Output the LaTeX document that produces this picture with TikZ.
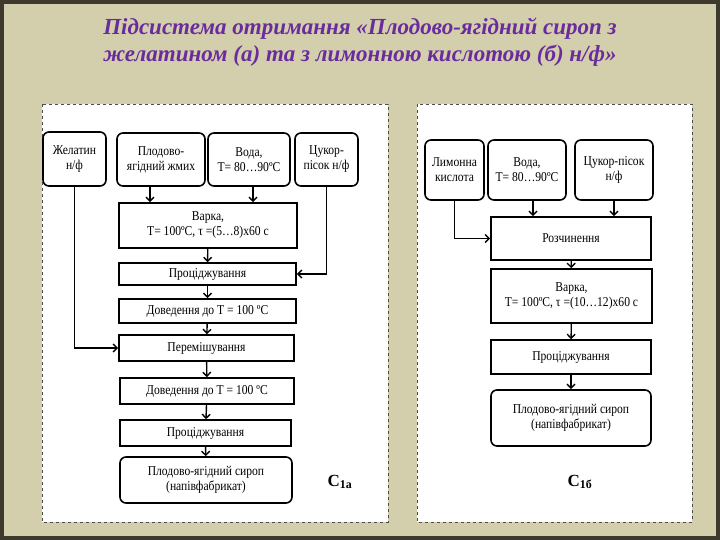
\documentclass[tikz,border=0pt]{standalone}
\usepackage{fontspec}
\setmainfont{Liberation Serif}
\newfontfamily\cond[FakeStretch=0.86]{Liberation Serif}
\usetikzlibrary{arrows.meta}
\definecolor{ttl}{HTML}{6A2C9C}
\definecolor{bgc}{HTML}{D3CEAC}
\begin{document}
\begin{tikzpicture}[x=1pt,y=-1pt,
  box/.style={draw,line width=1.6pt,fill=white,align=center,inner sep=0pt,font=\cond\fontsize{13.5}{15}\selectfont},
  rbox/.style={box,rounded corners=6pt},
  bigf/.style={font=\cond\fontsize{16}{18}\selectfont},
  arr/.style={-{Straight Barb[length=4pt,width=8pt,line width=1.4pt]},line width=1.4pt},
  panel/.style={draw=black!70,dashed,fill=white,line width=0.6pt}]
\fill[black!75!olive] (0,0) rectangle (720,540);
\fill[bgc] (4,4) rectangle (716,536);
\node[align=center,text=ttl,font=\fontsize{23}{27}\selectfont\bfseries\itshape] (title) at (360,42)
  {Підсистема отримання «Плодово-ягідний сироп з\\желатином (а) та з лимонною кислотою (б) н/ф»};
\path[panel] (42,104) rectangle (388,522);
\path[panel] (417,104) rectangle (692,522);
% left
\node[rbox,minimum width=63pt,minimum height=54pt] (zh) at (74.5,159) {Желатин\\н/ф};
\node[rbox,minimum width=88pt,minimum height=53pt] (pl) at (161,159.5) {Плодово-\\ягідний жмих};
\node[rbox,minimum width=82pt,minimum height=53pt] (vo) at (249,159.5) {Вода,\\T= 80…90ºC};
\node[rbox,minimum width=63pt,minimum height=53pt] (cu) at (326.5,159.5) {Цукор-\\пісок н/ф};
\node[box,minimum width=178pt,minimum height=45pt] (va) at (208,225.5) {Варка,\\T= 100ºC, τ =(5…8)x60 c};
\node[box,minimum width=177pt,minimum height=22pt] (p1) at (207.5,274) {Проціджування};
\node[box,minimum width=177pt,minimum height=24pt] (d1) at (207.5,311) {Доведення до T = 100 ºC};
\node[box,minimum width=175pt,minimum height=26pt] (pe) at (206.5,348) {Перемішування};
\node[box,minimum width=174pt,minimum height=26pt] (d2) at (207,391) {Доведення до T = 100 ºC};
\node[box,minimum width=171pt,minimum height=26pt] (p2) at (205.5,433) {Проціджування};
\node[rbox,minimum width=172pt,minimum height=46pt] (sa) at (206,480) {Плодово-ягідний сироп\\(напівфабрикат)};
\node[font=\fontsize{17}{19}\selectfont\bfseries] (la) at (340,482) {С\textsubscript{1а}};
\coordinate (a1) at (150,186);
\coordinate (a2) at (253,186);
\draw[arr] (a1) -- (a1|-va.north);
\draw[arr] (a2) -- (a2|-va.north);
\draw[arr] (va) -- (p1);
\draw[arr] (p1) -- (d1);
\draw[arr] (d1) -- (pe);
\draw[arr] (pe) -- (d2);
\draw[arr] (d2) -- (p2);
\draw[arr] (p2) -- (sa);
\draw[arr] (cu.south) |- (p1.east);
\draw[arr] (zh.south) |- (pe.west);
% right
\begin{scope}[every node/.append style={bigf}]
\node[rbox,minimum width=59pt,minimum height=60pt] (li) at (454.5,170) {Лимонна\\кислота};
\node[rbox,minimum width=78pt,minimum height=60pt] (vb) at (527,170) {Вода,\\T= 80…90ºC};
\node[rbox,minimum width=78pt,minimum height=60pt] (cb) at (614,170) {Цукор-пісок\\н/ф};
\node[box,minimum width=160pt,minimum height=43pt] (ro) at (571,238.5) {Розчинення};
\node[box,minimum width=161pt,minimum height=54pt] (vb2) at (571.5,296) {Варка,\\T= 100ºC, τ =(10…12)x60 c};
\node[box,minimum width=160pt,minimum height=34pt] (pb) at (571,357) {Проціджування};
\node[rbox,minimum width=160pt,minimum height=56pt] (sb) at (571,418) {Плодово-ягідний сироп\\(напівфабрикат)};
\end{scope}
\node[font=\fontsize{17}{19}\selectfont\bfseries] (lb) at (580,482) {С\textsubscript{1б}};
\coordinate (b1) at (533,200);
\draw[arr] (b1) -- (b1|-ro.north);
\draw[arr] (cb.south) -- (cb.south|-ro.north);
\draw[arr] (li.south) |- (ro.west);
\draw[arr] (ro) -- (vb2);
\draw[arr] (vb2) -- (pb);
\draw[arr] (pb) -- (sb);
\end{tikzpicture}
\end{document}
